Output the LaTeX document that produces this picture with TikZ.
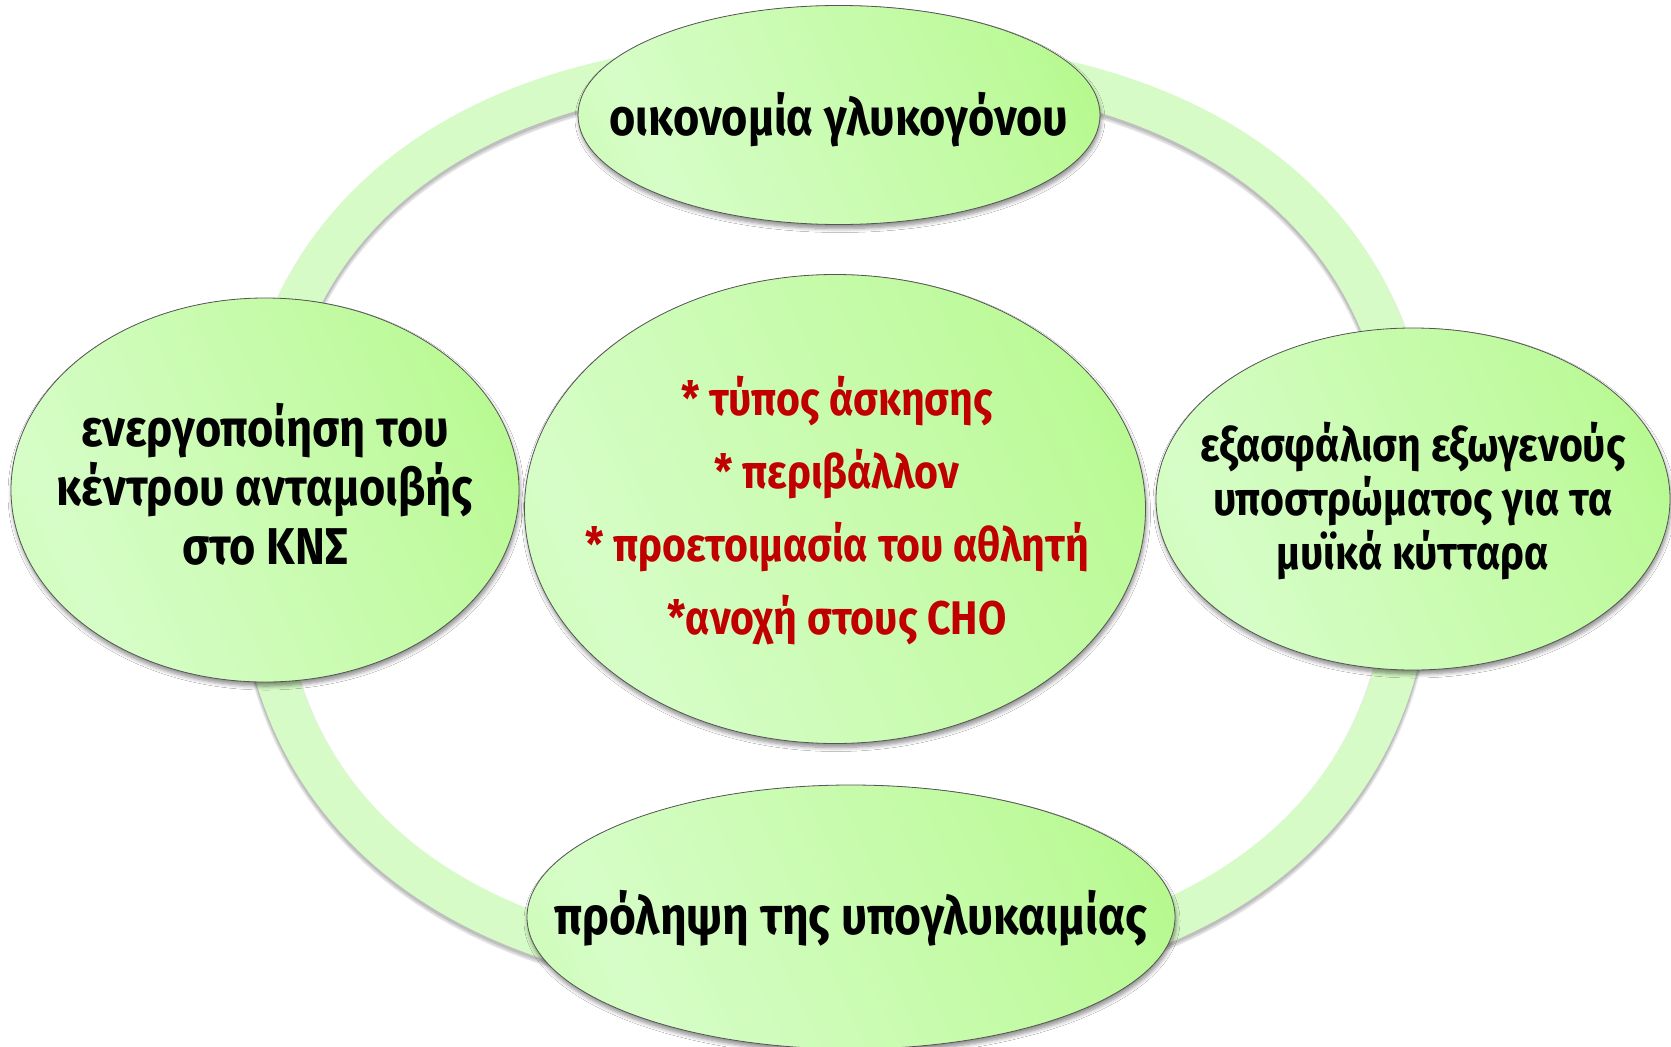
\documentclass[tikz,border=0pt]{standalone}
\usepackage{fontspec}
\setmainfont{Fira Sans}
\usetikzlibrary{shapes.geometric,shadows.blur}

\definecolor{ringgreen}{HTML}{D6FBC6}
\definecolor{gA}{HTML}{BAF997}
\definecolor{gB}{HTML}{D6FDC7}
\definecolor{gM}{HTML}{BEFA9C}
\definecolor{gC}{HTML}{A2F76A}
\definecolor{edgegray}{HTML}{555555}
\definecolor{redtext}{HTML}{C00000}

% soft green fill: light towards the lower left, saturated towards the upper right
\pgfdeclarehorizontalshading{leafshade}{100bp}{color(0bp)=(gA); color(28bp)=(gB); color(70bp)=(gM); color(100bp)=(gC)}

% slightly tall lettering
\newcommand\tl[1]{\scalebox{1}[1.15]{#1}}

\tikzset{
  bubble/.style={ellipse, draw=edgegray, line width=0.8pt, shading=leafshade, shading angle=25,
    inner sep=0pt,
    blur shadow={shadow xshift=1pt, shadow yshift=-4pt, shadow blur radius=4pt, shadow blur steps=6, shadow opacity=45}},
  blacktext/.style={align=center, font=\bfseries, text=black, inner sep=0pt},
  redlist/.style={align=center, font=\bfseries, text=redtext, inner sep=0pt}
}

\begin{document}
\begin{tikzpicture}[x=1pt,y=-1pt]
\useasboundingbox (0,0) rectangle (1671,1047);
\fill[white] (0,0) rectangle (1671,1047);

% the cycle ring (a rounded superellipse) behind the bubbles, with a soft shadow underneath
\foreach \dy/\w/\c/\o in {4/47/black/0.06, 4/45/black/0.09, 3/43/black/0.12, 0/42/ringgreen/1}{
  \draw[line width=\w pt, draw=\c, draw opacity=\o, yshift=-\dy pt]
    plot[domain=0:360, samples=240, variable=\t]
      ({835+578*cos(\t)*pow(abs(cos(\t))+0.0001,-0.1667)},
       {518+458*sin(\t)*pow(abs(sin(\t))+0.0001,-0.1667)}) -- cycle;
}

% bubbles
\node[bubble, minimum width=522pt, minimum height=219pt] (top) at (839,115) {};
\node[bubble, minimum width=508pt, minimum height=384pt] (left) at (265,490) {};
\node[bubble, minimum width=514pt, minimum height=342pt] (right) at (1413,499) {};
\node[bubble, minimum width=648pt, minimum height=264pt] (bottom) at (851,917) {};
\node[bubble, minimum width=621pt, minimum height=469pt] (mid) at (835,509) {};

% labels
\node[blacktext, font=\bfseries\fontsize{45}{59}\selectfont] (topT) at (839,120)
  {\tl{οικονομία γλυκογόνου}};
\node[blacktext, font=\bfseries\fontsize{45}{59}\selectfont] (leftT) at (265,484)
  {\tl{ενεργοποίηση του}\\\tl{κέντρου ανταμοιβής}\\\tl{στο ΚΝΣ}};
\node[blacktext, font=\bfseries\fontsize{41}{54}\selectfont] (rightT) at (1413,501)
  {\tl{εξασφάλιση εξωγενούς}\\\tl{υποστρώματος για τα}\\\tl{μυϊκά κύτταρα}};
\node[blacktext, font=\bfseries\fontsize{46}{59}\selectfont] (bottomT) at (851,918)
  {\tl{πρόληψη της υπογλυκαιμίας}};
\node[redlist, font=\bfseries\fontsize{41}{73}\selectfont] (midT) at (837,511)
  {\tl{* τύπος άσκησης}\\\tl{* περιβάλλον}\\\tl{* προετοιμασία του αθλητή}\\\tl{*ανοχή στους CHO}};
\end{tikzpicture}
\end{document}
